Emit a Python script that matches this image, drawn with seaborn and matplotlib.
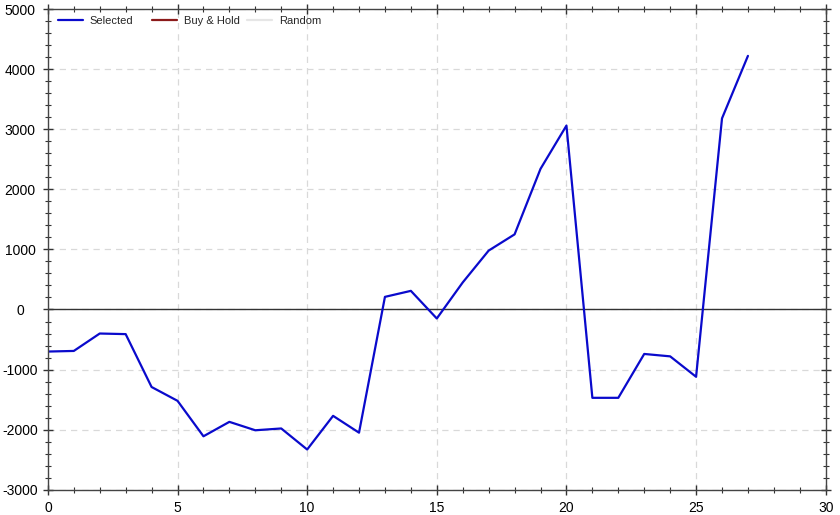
import numpy as np
import pandas as pd
import seaborn as sns
import matplotlib.pyplot as plt
from matplotlib.ticker import MultipleLocator

# Estilo base
sns.set_theme(style="ticks")
plt.rcParams['font.family'] = ['Liberation Sans', 'DejaVu Sans']
plt.rcParams['axes.unicode_minus'] = False

# Datos
periodos = list(range(28))
selected = [-700, -690, -400, -410, -1290, -1520, -2110, -1870, -2010, -1980,
            -2330, -1770, -2050, 210, 310, -150, 450, 980, 1250, 2340,
            3060, -1470, -1470, -740, -780, -1120, 3180, 4220]
series = ["Selected", "Buy & Hold", "Random"]
colores = ["#0a0acc", "#8b1a1a", "#e6e6e6"]

df = pd.DataFrame({"periodo": periodos, "valor": selected})

fig = plt.figure(figsize=(8.4, 5.15), dpi=100)
ax = fig.add_axes([0.057, 0.049, 0.926, 0.9335])

sns.lineplot(data=df, x="periodo", y="valor", color=colores[0], linewidth=1.6,
             ax=ax, label=series[0])
# Series sin datos visibles, solo en la leyenda
ax.plot([], [], color=colores[1], linewidth=1.6, label=series[1])
ax.plot([], [], color=colores[2], linewidth=1.6, label=series[2])

ax.axhline(0, color="#333333", linewidth=1.0, zorder=1)

ax.set_xlim(0, 30)
ax.set_ylim(-3000, 5000)
ax.xaxis.set_major_locator(MultipleLocator(5))
ax.xaxis.set_minor_locator(MultipleLocator(1))
ax.yaxis.set_major_locator(MultipleLocator(1000))
ax.yaxis.set_minor_locator(MultipleLocator(200))

ax.grid(True, which="major", linestyle=(0, (5, 4)), color="#d9d9d9", linewidth=0.9)
ax.set_axisbelow(True)

ax.tick_params(which="both", direction="inout", top=True, right=True,
               colors="#333333", labelcolor="black", labelsize=10)
ax.tick_params(which="major", length=7, width=1)
ax.tick_params(which="minor", length=5, width=0.8)
ax.tick_params(axis="x", which="major", pad=4.5)
ax.tick_params(axis="y", which="major", pad=16.5)
for lab in ax.get_yticklabels():
    lab.set_horizontalalignment("center")
for s in ax.spines.values():
    s.set_color("#444444")
    s.set_linewidth(1.0)

ax.set_xlabel("")
ax.set_ylabel("")

# Leyenda con columnas de ancho fijo: una leyenda por serie
handles, labels = ax.get_legend_handles_labels()
ax.get_legend().remove()
for i, (h, l) in enumerate(zip(handles, labels)):
    leg = ax.legend([h], [l], loc="center left", frameon=False, fontsize=8,
                    handlelength=2.25, handletextpad=0.6, borderpad=0,
                    borderaxespad=0, bbox_to_anchor=(0.0125 + i * 0.122, 0.975))
    if i < len(handles) - 1:
        ax.add_artist(leg)

fig.savefig("out.png", dpi=100)
